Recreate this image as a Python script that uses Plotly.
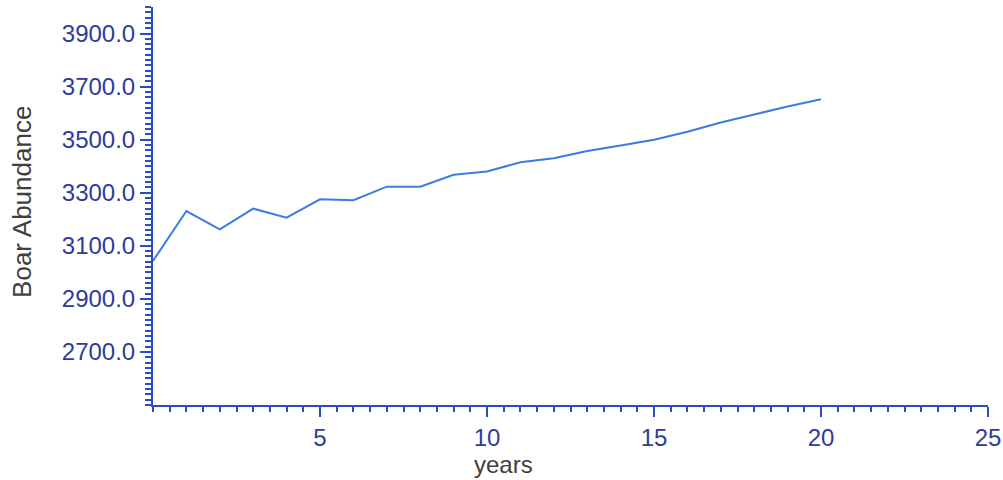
import plotly.graph_objects as go

years = list(range(0, 21))
abundance = [3043, 3231, 3162, 3240, 3206, 3275, 3272, 3323, 3323, 3368, 3380,
             3415, 3430, 3457, 3478, 3500, 3530, 3565, 3595, 3625, 3652]

x_ticks = [5, 10, 15, 20, 25]
y_ticks = [2700, 2900, 3100, 3300, 3500, 3700, 3900]

axis_col = "#2c4cc4"
label_col = "#2d3c9c"
title_col = "#404040"
font_fam = "Liberation Sans, Arial, sans-serif"

fig = go.Figure()
fig.add_trace(go.Scatter(x=years, y=abundance, mode="lines",
                         line=dict(color="#3a7be8", width=2), showlegend=False))

fig.update_layout(
    width=1003, height=480,
    margin=dict(l=153, r=15, t=7, b=75),
    paper_bgcolor="white", plot_bgcolor="white",
    font=dict(family=font_fam, size=24, color=label_col),
)
fig.update_xaxes(
    range=[0, 25], tickmode="array", tickvals=x_ticks, automargin=False,
    showgrid=False, zeroline=False, showline=True, linecolor=axis_col, linewidth=2,
    ticks="outside", ticklen=10, tickwidth=2, tickcolor=axis_col,
    tickfont=dict(size=24, color=label_col),
    minor=dict(tick0=0, dtick=0.5, ticks="outside", ticklen=5, tickwidth=2,
               tickcolor=axis_col, showgrid=False),
)
fig.update_yaxes(
    range=[2500, 4000], tickmode="array", tickvals=y_ticks, tickformat=".1f",
    automargin=False,
    showgrid=False, zeroline=False, showline=True, linecolor=axis_col, linewidth=2,
    ticks="outside", ticklen=11, tickwidth=2, tickcolor=axis_col,
    tickfont=dict(size=24, color=label_col),
    minor=dict(tick0=2500, dtick=20, ticks="outside", ticklen=6, tickwidth=2,
               tickcolor=axis_col, showgrid=False),
)
fig.add_annotation(text="years", xref="paper", yref="paper", x=0.42, y=-0.149,
                   showarrow=False, font=dict(size=24, color=title_col, family=font_fam),
                   xanchor="center", yanchor="middle")
fig.add_annotation(text="Boar Abundance", xref="paper", yref="paper", x=-0.157, y=0.51,
                   showarrow=False, textangle=-90,
                   font=dict(size=26, color=title_col, family=font_fam),
                   xanchor="center", yanchor="middle")

fig.write_html("out.html", config={"displayModeBar": False})

with open("out.html", "r", encoding="utf-8") as f:
    html = f.read()
html = html.replace("<head>", "<head><style>html,body{margin:0;padding:0;overflow:hidden;}</style>", 1)
with open("out.html", "w", encoding="utf-8") as f:
    f.write(html)
